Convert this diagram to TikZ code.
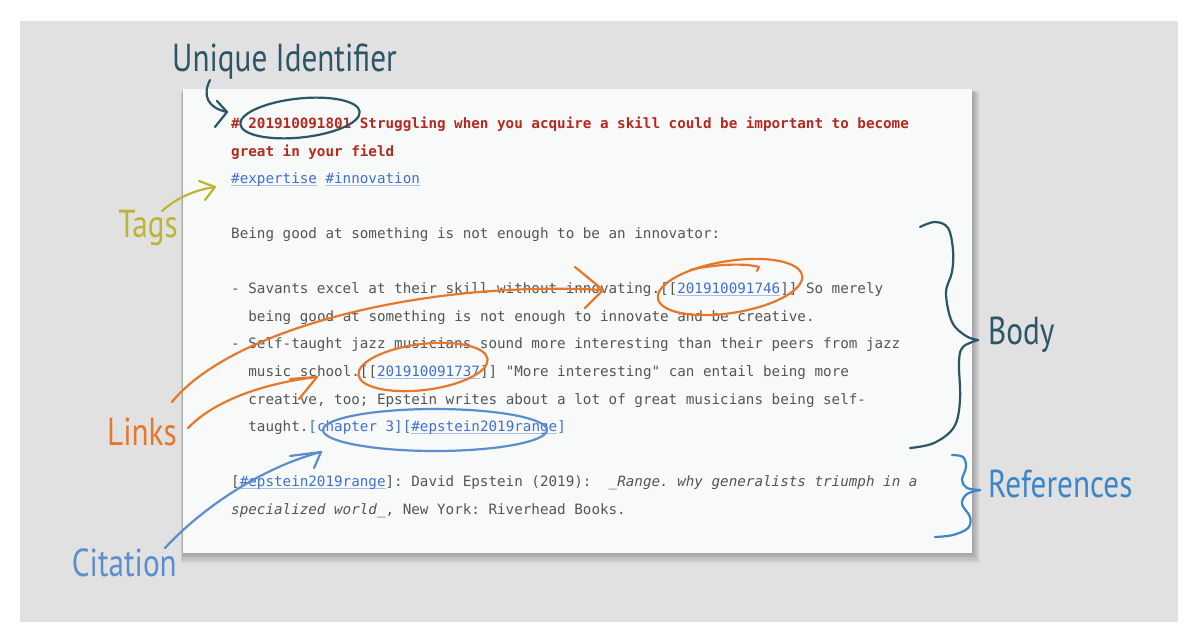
\documentclass[tikz,border=0pt]{standalone}
\usepackage{fontspec}
\newfontfamily\mono{DejaVu Sans Mono}
\newfontfamily\lbl[FakeStretch=0.8]{PT Sans}
\definecolor{bgc}{HTML}{E1E1E1}
\definecolor{cardc}{HTML}{F8F9F9}
\definecolor{txtc}{HTML}{555555}
\definecolor{titc}{HTML}{B42A20}
\definecolor{linkblue}{HTML}{3F6FD2}
\definecolor{ulblue}{HTML}{A9BEE8}
\definecolor{tealc}{HTML}{2C5567}
\definecolor{tagc}{HTML}{BDB531}
\definecolor{orc}{HTML}{E7772B}
\definecolor{citc}{HTML}{5C8ECD}
\definecolor{refc}{HTML}{3B86C8}
\newcommand\lk[1]{{\sbox0{#1}\rlap{\textcolor{ulblue}{\rule[-2.2pt]{\wd0}{0.8pt}}}\textcolor{linkblue}{#1}}}
\begin{document}
\begin{tikzpicture}[x=1pt,y=-1pt,
  tx/.style={anchor=base west, inner sep=0pt, text=txtc,
    font=\mono\fontsize{14.25}{14.25}\selectfont\frenchspacing},
  lab/.style={inner sep=0pt, font=\lbl\fontsize{39}{39}\selectfont},
  hand/.style={line width=2.2pt, line cap=round, line join=round},
]
\useasboundingbox (0,0) rectangle (1200,636);
\fill[bgc] (20,21) rectangle (1178,622);
% soft shadow of the card
\foreach \i in {1,...,8}{
  \fill[black, opacity=0.035] (183-0.3*\i,89+0.5*\i) rectangle (972+\i,553+1.3*\i);
}
\fill[cardc] (183,89) rectangle (972,553);

% document text
\node[tx, text=titc] (l1) at (231,129) {\bfseries \# 201910091801 Struggling when you acquire a skill could be important to become};
\node[tx, text=titc] (l2) at (231,156.5) {\bfseries great in your field};
\node[tx] (l3) at (231,184) {\lk{\#expertise} \lk{\#innovation}};
\node[tx] (l5) at (231,239) {Being good at something is not enough to be an innovator:};
\node[tx] (l7) at (231,294) {- Savants excel at their skill without innovating.[[\lk{201910091746}]] So merely};
\node[tx] (l8) at (248.2,321.5) {being good at something is not enough to innovate and be creative.};
\node[tx] (l9) at (231,349) {- Self-taught jazz musicians sound more interesting than their peers from jazz};
\node[tx] (l10) at (248.2,376.5) {music school.[[\lk{201910091737}]] "More interesting" can entail being more};
\node[tx] (l11) at (248.2,404) {creative, too; Epstein writes about a lot of great musicians being self-};
\node[tx] (l12) at (248.2,431.5) {taught.\textcolor{linkblue}{[chapter 3][}\lk{\#epstein2019range}\textcolor{linkblue}{]}};
\node[tx] (l14) at (231,486.5) {[\lk{\#epstein2019range}]: David Epstein (2019):\ \ {\itshape \_Range. why generalists triumph in a}};
\node[tx] (l15) at (231,514) {{\itshape specialized world\_}, New York: Riverhead Books.};

% labels
\node[lab, text=tealc, anchor=base west] (uid) at (172,72) {Unique Identifier};
\node[lab, text=tagc, anchor=base east] (tags) at (178,238) {Tags};
\node[lab, text=orc, anchor=base east] (links) at (177,445) {Links};
\node[lab, text=citc, anchor=base east] (cit) at (177,576) {Citation};
\node[lab, text=tealc, anchor=base west] (body) at (988,345) {Body};
\node[lab, text=refc, anchor=base west] (refs) at (988,497) {References};

% unique identifier
\coordinate (uidS) at (210,80);
\coordinate (uidT) at (227,112);
\draw[hand, tealc] (uidS) .. controls (202,96) and (208,108) .. (uidT);
\draw[hand, tealc] (217,101) -- (uidT) -- (215,127);
\draw[hand, tealc, rotate around={6:(300,118)}] (300,118) ellipse [x radius=60, y radius=19.5];

% tags
\coordinate (tagS) at (162,211);
\coordinate (tagT) at (215,187);
\draw[hand, tagc] (tagS) .. controls (178,197) and (195,190) .. (tagT);
\draw[hand, tagc] (199,181) -- (tagT) -- (205,200);

% links
\coordinate (lkaS) at (172,402);
\coordinate (lkaT) at (603,290);
\draw[hand, orc] (lkaS) .. controls (230,330) and (420,280) .. (lkaT);
\draw[hand, orc] (575,267) -- (lkaT) -- (585,308);
\coordinate (lkbS) at (188,428);
\coordinate (lkbT) at (317,377);
\draw[hand, orc] (lkbS) .. controls (215,400) and (265,383) .. (lkbT);
\draw[hand, orc] (290,379) -- (lkbT) -- (299,399);
\draw[hand, orc, rotate around={9:(730,287)}] (730,287) ellipse [x radius=73, y radius=26];
\draw[hand, orc] (690,270) .. controls (715,264) and (745,263) .. (759,267) -- (757,271);
\draw[hand, orc, rotate around={7:(423,367)}] (423,367) ellipse [x radius=65, y radius=23];

% citation
\coordinate (citS) at (165,548);
\coordinate (citT) at (321,452);
\draw[hand, citc] (citS) .. controls (200,510) and (260,468) .. (citT);
\draw[hand, citc] (290,456) -- (citT) -- (314,468);
\draw[hand, citc] (435,430) ellipse [x radius=112, y radius=21];

% braces
\draw[hand, tealc] plot[smooth, tension=0.6] coordinates {(920,227) (935,222) (948,228) (953,250) (952,272) (946,293) (952,322) (966,336) (978,340)};
\draw[hand, tealc] plot[smooth, tension=0.6] coordinates {(978,340) (963,347) (959,362) (960,400) (954,427) (934,443) (910,448)};
\draw[hand, refc] plot[smooth, tension=0.6] coordinates {(952,455) (963,457) (966,467) (962,480) (967,488) (980,490)};
\draw[hand, refc] plot[smooth, tension=0.6] coordinates {(980,490) (967,494) (962,504) (970,517) (968,528) (953,535) (935,537)};
\end{tikzpicture}
\end{document}
